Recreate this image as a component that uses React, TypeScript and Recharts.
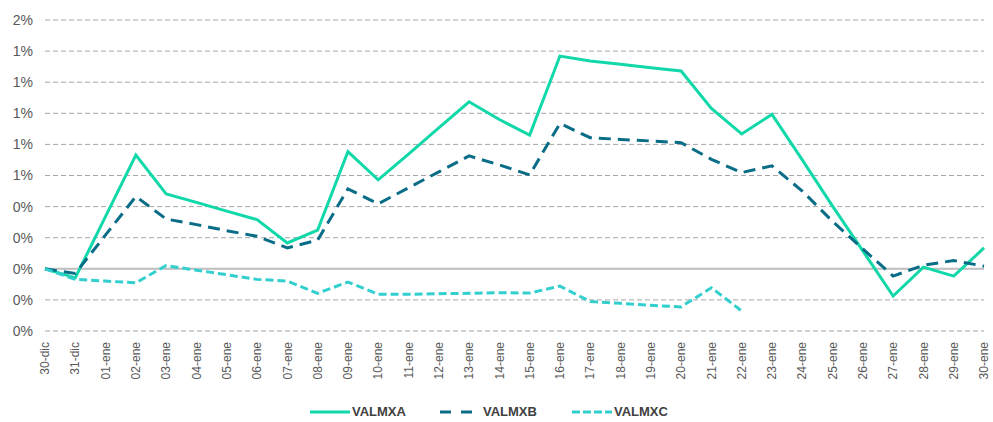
import React from "react";
import { LineChart, Line, XAxis, YAxis, CartesianGrid, ReferenceLine, Legend } from "recharts";

// Rendimiento diario acumulado por serie (en %).
const categories = [
  "30-dic", "31-dic", "01-ene", "02-ene", "03-ene", "04-ene", "05-ene", "06-ene",
  "07-ene", "08-ene", "09-ene", "10-ene", "11-ene", "12-ene", "13-ene", "14-ene",
  "15-ene", "16-ene", "17-ene", "18-ene", "19-ene", "20-ene", "21-ene", "22-ene",
  "23-ene", "24-ene", "25-ene", "26-ene", "27-ene", "28-ene", "29-ene", "30-ene",
];

const valmxa = [
  0, -0.058, 0.337, 0.732, 0.482, 0.427, 0.371, 0.316, 0.166, 0.248, 0.753, 0.572,
  0.738, 0.907, 1.074, 0.96, 0.86, 1.368, 1.336, 1.315, 1.293, 1.272, 1.031, 0.867,
  0.993, 0.7, 0.403, 0.115, -0.175, 0.011, -0.047, 0.134,
];

const valmxb = [
  0, -0.03, 0.218, 0.465, 0.32, 0.284, 0.245, 0.209, 0.134, 0.184, 0.514, 0.418,
  0.521, 0.623, 0.726, 0.668, 0.604, 0.935, 0.843, 0.832, 0.822, 0.811, 0.704, 0.619,
  0.662, 0.5, 0.305, 0.128, -0.047, 0.023, 0.053, 0.017,
];

const valmxc: (number | null)[] = [
  0, -0.068, -0.079, -0.09, 0.021, -0.009, -0.038, -0.068, -0.079, -0.158, -0.085, -0.164,
  -0.164, -0.16, -0.158, -0.154, -0.156, -0.111, -0.211, -0.222, -0.235, -0.245, -0.122, -0.271,
  null, null, null, null, null, null, null, null,
];

const yTicks = [-0.4, -0.2, 0, 0.2, 0.4, 0.6, 0.8, 1, 1.2, 1.4, 1.6];

const C_A = "#10D8A9";
const C_B = "#0A6D88";
const C_C = "#33CFCF";
const TX = "#595959";
const FONT = "'Liberation Sans', Arial, sans-serif";

const data = categories.map((label, i) => ({
  label,
  a: valmxa[i],
  b: valmxb[i],
  c: valmxc[i],
}));

const legendItems = [
  { name: "VALMXA", color: C_A, dash: undefined as string | undefined, x: 310, w: 40, gap: 2 },
  { name: "VALMXB", color: C_B, dash: "11 10", x: 440, w: 32, gap: 11 },
  { name: "VALMXC", color: C_C, dash: "8 3", x: 572, w: 40, gap: 2 },
];

function XTick({ x, y, payload }: any) {
  return (
    <text
      x={x}
      y={y + 3}
      transform={`rotate(-90 ${x} ${y + 3})`}
      textAnchor="end"
      dy="0.35em"
      fill={TX}
      fontSize={12}
      fontFamily={FONT}
    >
      {payload.value}
    </text>
  );
}

function LegendBox() {
  return (
    <div style={{ position: "relative", height: 31, width: 993 }}>
      {legendItems.map((it) => (
        <div
          key={it.name}
          style={{ position: "absolute", left: it.x, top: 13, display: "flex", alignItems: "center" }}
        >
          <svg width={it.w} height={12}>
            <line x1={0} y1={6} x2={it.w} y2={6} stroke={it.color} strokeWidth={3} strokeDasharray={it.dash} />
          </svg>
          <span
            style={{
              marginLeft: it.gap,
              fontFamily: FONT,
              fontWeight: 700,
              fontSize: 13,
              color: "#404040",
              lineHeight: "15px",
            }}
          >
            {it.name}
          </span>
        </div>
      ))}
    </div>
  );
}

export default function App() {
  return (
    <div style={{ position: "absolute", left: 0, top: 0, width: 993, height: 422, background: "#fff" }}>
      <LineChart width={993} height={422} data={data} margin={{ top: 20, right: 9, left: 0, bottom: 0 }}>
        <CartesianGrid vertical={false} stroke="#A6A6A6" strokeDasharray="5 3" />
        <XAxis
          dataKey="label"
          interval={0}
          height={60}
          tick={<XTick />}
          tickLine={false}
          axisLine={false}
        />
        <YAxis
          width={45}
          domain={[-0.4, 1.6]}
          ticks={yTicks}
          tickFormatter={(v: number) => `${Math.round(v)}%`}
          tick={{ fill: TX, fontSize: 14, fontFamily: FONT }}
          tickLine={false}
          axisLine={false}
          tickMargin={6}
        />
        <ReferenceLine y={0} stroke="#BFBFBF" strokeWidth={2} />
        <Legend verticalAlign="bottom" height={31} content={<LegendBox />} />
        <Line type="linear" dataKey="a" name="VALMXA" stroke={C_A} strokeWidth={3} dot={false} isAnimationActive={false} />
        <Line type="linear" dataKey="b" name="VALMXB" stroke={C_B} strokeWidth={3} strokeDasharray="12 7" dot={false} isAnimationActive={false} />
        <Line type="linear" dataKey="c" name="VALMXC" stroke={C_C} strokeWidth={3} strokeDasharray="8 4" dot={false} isAnimationActive={false} />
      </LineChart>
    </div>
  );
}
